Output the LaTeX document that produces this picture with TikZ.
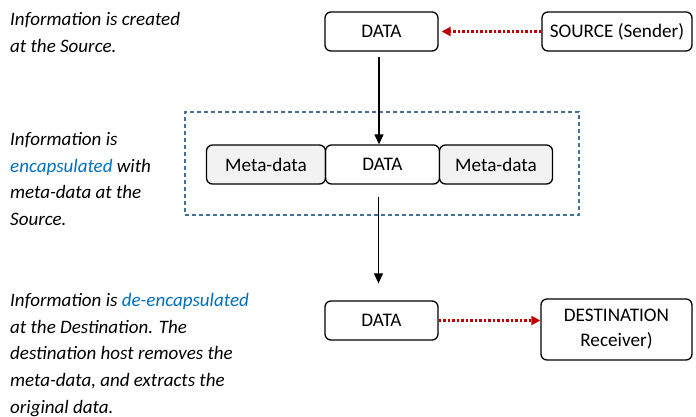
\documentclass[tikz,border=0pt]{standalone}
\usepackage{fontspec}
\setmainfont{Carlito}
\usetikzlibrary{arrows.meta}
\definecolor{arrred}{HTML}{C00000}
\definecolor{boxblue}{HTML}{41719C}
\definecolor{txtblue}{HTML}{0070C0}
\definecolor{metagray}{HTML}{F2F2F2}
\begin{document}
\begin{tikzpicture}[x=1pt,y=-1pt,
  box/.style={draw=black, line width=1.3pt, rounded corners=6pt, minimum height=39pt,
    inner sep=0pt, font=\fontsize{19.2}{25}\selectfont, align=center},
  metabox/.style={box, fill=metagray},
  note/.style={anchor=north west, inner sep=0pt, align=left,
    font=\fontsize{19}{26.7}\selectfont\itshape},
  flow/.style={line width=1.2pt, -{Triangle[length=10pt,width=9pt]}},
  redflow/.style={arrred, line width=2.5pt, dash pattern=on 2.5pt off 2pt,
    -{Triangle[length=9pt,width=9pt]}},
  group/.style={draw=boxblue, line width=1.2pt, dash pattern=on 4pt off 3pt,
    minimum width=394pt, minimum height=103pt, inner sep=0pt}
]
\useasboundingbox (0,0) rectangle (696,417);

\node[group] (grp) at (382,163.5) {};

\node[box, minimum width=113pt] (data1) at (381.5,31.5) {DATA};
\node[box, minimum width=150pt] (source) at (617,31.5) {SOURCE (Sender)};

\node[metabox, minimum width=119pt] (meta1) at (266,164.5) {Meta-data};
\node[box, minimum width=114pt] (data2) at (382.5,164.5) {DATA};
\node[metabox, minimum width=113pt] (meta2) at (496,164.5) {Meta-data};

\node[box, minimum width=113pt] (data3) at (381.5,320.5) {DATA};
\node[box, minimum width=151pt, minimum height=61pt] (dest) at (616.5,329.5) {DESTINATION\\Receiver)};

\draw[redflow, shorten >=3pt] (source.west) -- (data1.east);
\draw[redflow] (data3.east) -- (data3.east -| dest.west);

\draw[flow, shorten <=5pt] ([xshift=-2.5pt]data1.south) -- ([xshift=-2.5pt]data1.south |- data2.north);
\draw[flow, shorten <=12pt, shorten >=17pt] ([xshift=-4pt]data2.south) -- ([xshift=-4pt]data2.south |- data3.north);

\node[note] (t1) at (10,12) {Information is created\\at the Source.};
\node[note] (t2) at (10,132) {Information is\\\textcolor{txtblue}{encapsulated} with\\meta-data at the\\Source.};
\node[note] (t3) at (10,293) {Information is \textcolor{txtblue}{de-encapsulated}\\at the Destination. The\\destination host removes the\\meta-data, and extracts the\\original data.};
\end{tikzpicture}
\end{document}
